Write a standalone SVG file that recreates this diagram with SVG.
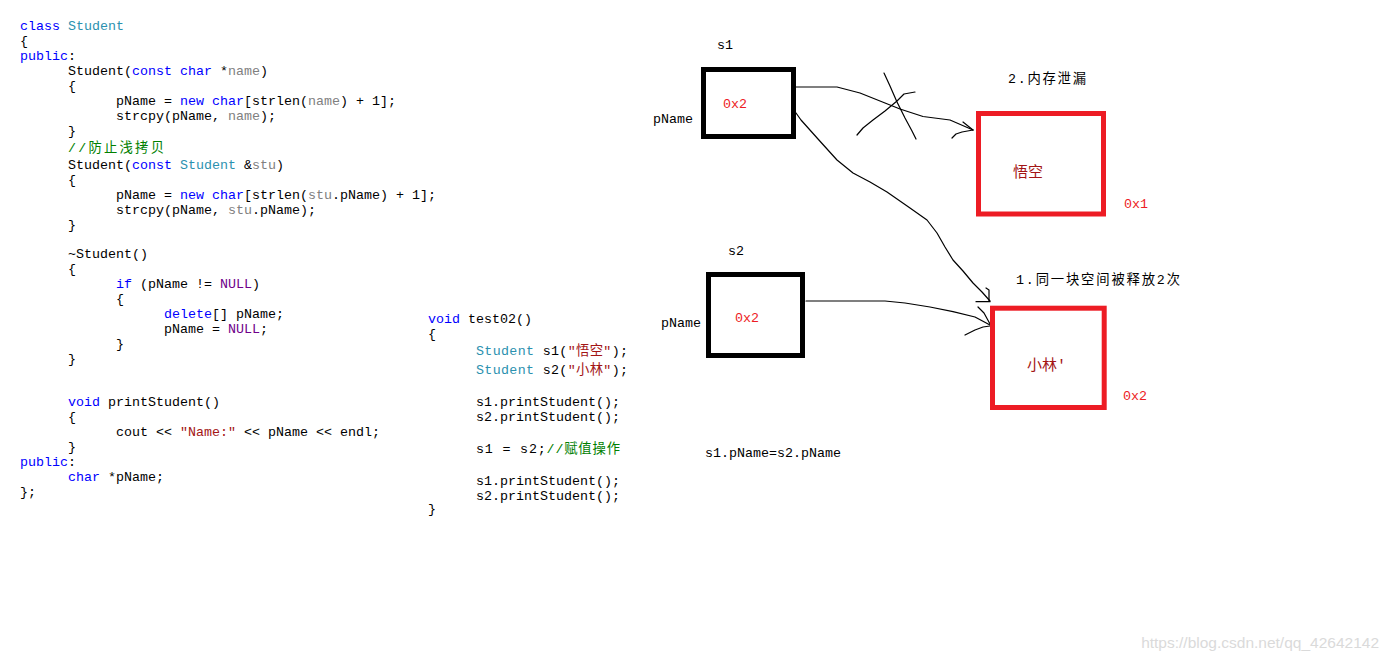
<svg xmlns="http://www.w3.org/2000/svg" width="1385" height="663" viewBox="0 0 1385 663">
<style>
text{font-family:"Liberation Mono","Noto Sans CJK SC",monospace;font-size:13.33px;fill:#000}
.k{fill:#0000ff}.t{fill:#2b91af}.g{fill:#808080}.n{fill:#6f008a}.s{fill:#a31515}.c{fill:#008000}
.red{fill:#ed1c24}
.box{fill:none;stroke:#000;stroke-width:5}
.mem{fill:none;stroke:#ed1c24;stroke-width:5}
.ln{fill:none;stroke:#000;stroke-width:1.2;stroke-linejoin:round;stroke-linecap:round}
.wm{font-family:"Liberation Sans",Arial,sans-serif;font-size:15.5px;fill:#dadada}
</style>
<rect width="1385" height="663" fill="#fff"/>
<g id="code-class">
<text x="20" y="30"><tspan class="k">class</tspan> <tspan class="t">Student</tspan></text>
<text x="20" y="45">{</text>
<text x="20" y="60"><tspan class="k">public</tspan>:</text>
<text x="68" y="75">Student(<tspan class="k">const char</tspan> *<tspan class="g">name</tspan>)</text>
<text x="68" y="90">{</text>
<text x="116" y="105">pName = <tspan class="k">new char</tspan>[strlen(<tspan class="g">name</tspan>) + 1];</text>
<text x="116" y="120">strcpy(pName, <tspan class="g">name</tspan>);</text>
<text x="68" y="135">}</text>
<text x="68" y="152" class="c" textLength="96" lengthAdjust="spacing">//防止浅拷贝</text>
<text x="68" y="169">Student(<tspan class="k">const</tspan> <tspan class="t">Student</tspan> &amp;<tspan class="g">stu</tspan>)</text>
<text x="68" y="184">{</text>
<text x="116" y="199">pName = <tspan class="k">new char</tspan>[strlen(<tspan class="g">stu</tspan>.pName) + 1];</text>
<text x="116" y="214">strcpy(pName, <tspan class="g">stu</tspan>.pName);</text>
<text x="68" y="229">}</text>
<text x="68" y="258">~Student()</text>
<text x="68" y="273">{</text>
<text x="116" y="288"><tspan class="k">if</tspan> (pName != <tspan class="n">NULL</tspan>)</text>
<text x="116" y="303">{</text>
<text x="164" y="318"><tspan class="k">delete</tspan>[] pName;</text>
<text x="164" y="333">pName = <tspan class="n">NULL</tspan>;</text>
<text x="116" y="348">}</text>
<text x="68" y="363">}</text>
<text x="68" y="406"><tspan class="k">void</tspan> printStudent()</text>
<text x="68" y="421">{</text>
<text x="116" y="436">cout &lt;&lt; <tspan class="s">"Name:"</tspan> &lt;&lt; pName &lt;&lt; endl;</text>
<text x="68" y="451">}</text>
<text x="20" y="466"><tspan class="k">public</tspan>:</text>
<text x="68" y="481"><tspan class="k">char</tspan> *pName;</text>
<text x="20" y="496">};</text>
</g>
<g id="code-test02">
<text x="428" y="323"><tspan class="k">void</tspan> test02()</text>
<text x="428" y="338">{</text>
<text x="476" y="355" textLength="152" lengthAdjust="spacing"><tspan class="t">Student</tspan> s1(<tspan class="s">"悟空"</tspan>);</text>
<text x="476" y="374" textLength="152" lengthAdjust="spacing"><tspan class="t">Student</tspan> s2(<tspan class="s">"小林"</tspan>);</text>
<text x="476" y="406">s1.printStudent();</text>
<text x="476" y="421">s2.printStudent();</text>
<text x="476" y="453" textLength="144" lengthAdjust="spacing">s1 = s2;<tspan class="c">//赋值操作</tspan></text>
<text x="476" y="485">s1.printStudent();</text>
<text x="476" y="500">s2.printStudent();</text>
<text x="428" y="513">}</text>
</g>
<g id="connectors">
<polyline class="ln" points="796,87 837,87 860,93 885,103 900,109 923,116.5 950,120 973,130"/>
<polyline class="ln" points="963,122 973,130"/>
<polyline class="ln" points="952,138 956,134 962,132 973,130"/>
<polyline class="ln" points="884,73 890,86 897,102 905,118 912,131 916,139"/>
<polyline class="ln" points="915,92 904,94 897,101 885,111 873,120 863,128 857,135"/>
<polyline class="ln" points="796,113 801,120 818,139 837,160 853,173 870,182 887,192 910,208 927,220 937,233 945,247 953,260 963,271 973,283 982,292 990,301"/>
<polyline class="ln" points="976,301.7 990,301.7"/>
<polyline class="ln" points="986,288 989,290 989,301"/>
<polyline class="ln" points="806,301 885,301 905,303 930,307 953,311.7 975,317 990,325"/>
<polyline class="ln" points="978,307 984,313 990,324"/>
<polyline class="ln" points="965,335 975,330 983,327 990,326"/>
</g>
<g id="s1">
<text x="717" y="49">s1</text>
<rect class="box" x="703.5" y="69.5" width="90" height="67"/>
<text x="653" y="123">pName</text>
<text x="723" y="108" class="red">0x2</text>
</g>
<g id="s2">
<text x="728" y="255">s2</text>
<rect class="box" x="708.5" y="274.5" width="94" height="81"/>
<text x="661" y="327">pName</text>
<text x="735" y="322" class="red">0x2</text>
</g>
<g id="mem1">
<text x="1008" y="83" textLength="78" lengthAdjust="spacing">2.内存泄漏</text>
<rect class="mem" x="978.5" y="113.5" width="125" height="100.5"/>
<text x="1013" y="177" class="s" style="font-size:15px">悟空</text>
<text x="1124" y="208" class="red">0x1</text>
</g>
<g id="mem2">
<text x="1016" y="284" textLength="164" lengthAdjust="spacing">1.同一块空间被释放2次</text>
<rect class="mem" x="992.5" y="308.2" width="111.7" height="99.3"/>
<text x="1027" y="370" class="s" style="font-size:15px">小林′</text>
<text x="1123" y="400" class="red">0x2</text>
</g>
<g id="note">
<text x="705" y="457">s1.pName=s2.pName</text>
</g>
<text x="1379" y="648" text-anchor="end" class="wm">https://blog.csdn.net/qq_42642142</text>
</svg>
